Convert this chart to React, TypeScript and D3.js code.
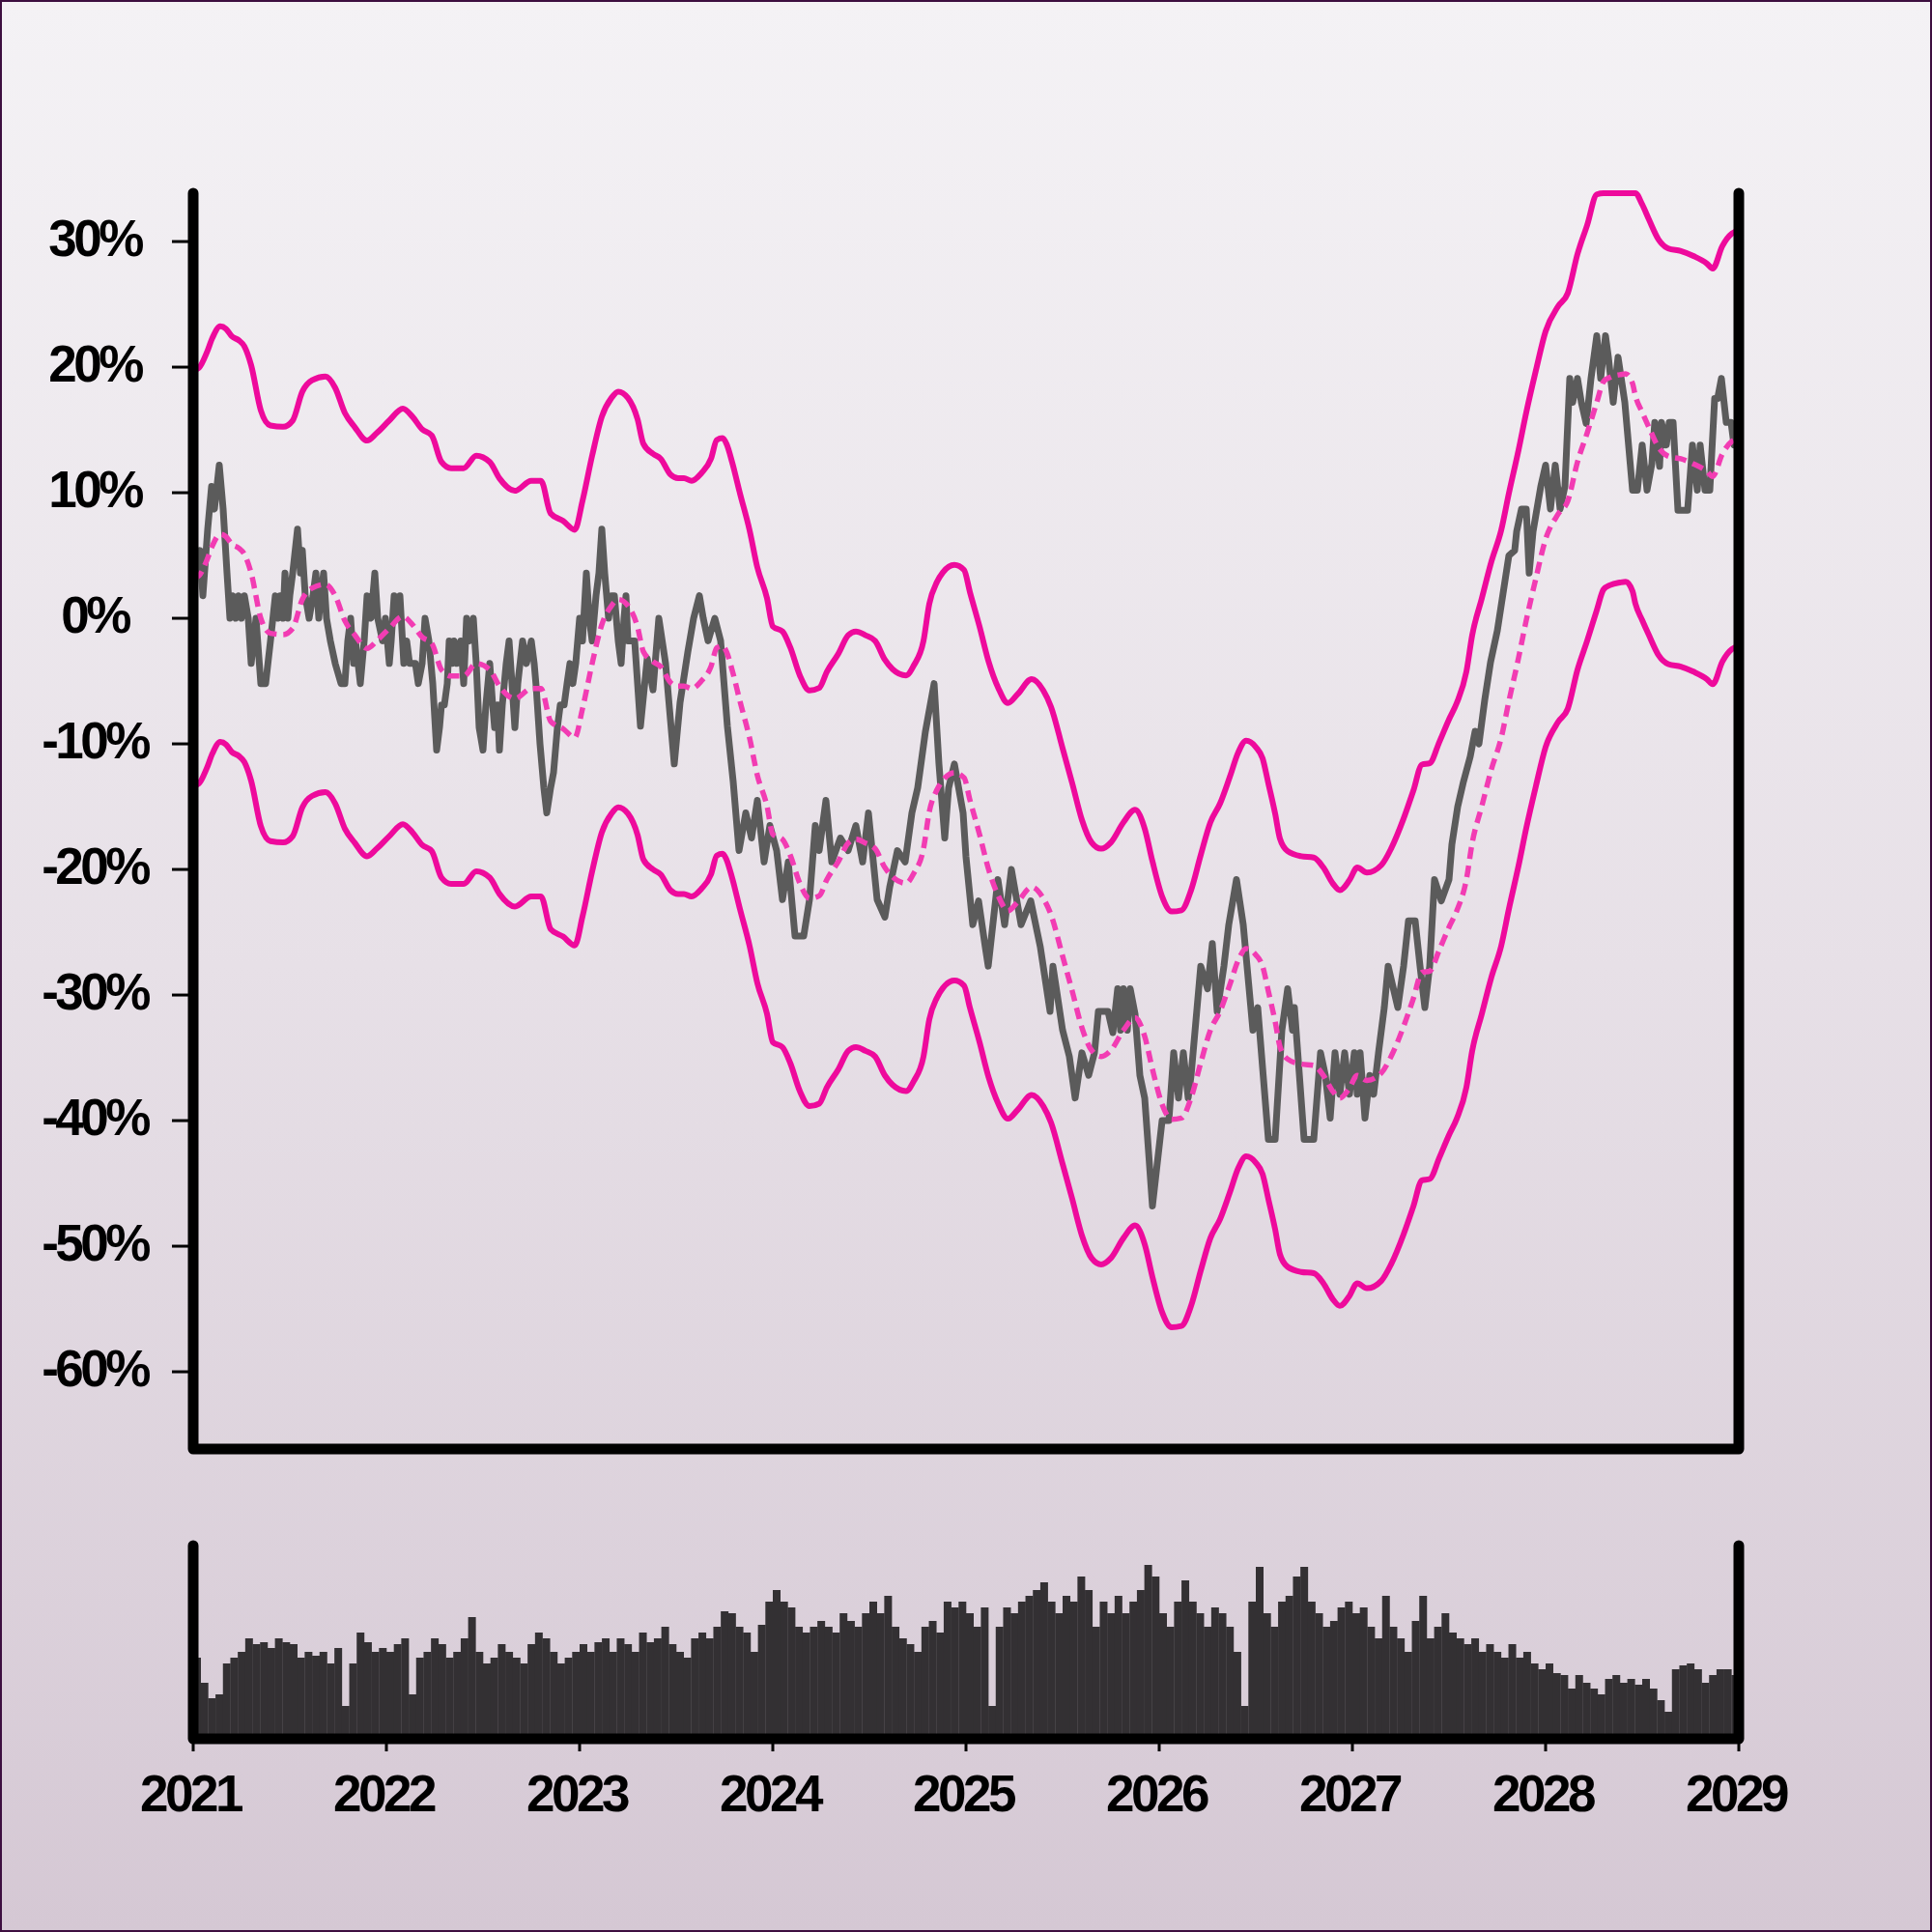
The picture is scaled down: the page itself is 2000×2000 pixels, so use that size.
import React from "react";
import * as d3 from "d3";

const yearTicks = [2021, 2022, 2023, 2024, 2025, 2026, 2027, 2028, 2029];
const pctTicks = [30, 20, 10, 0, -10, -20, -30, -40, -50, -60];

// price (decimal year, % change)
const pricePoints: [number, number][] = [
  [2021.000,5.4],[2021.020,3.6],[2021.035,5.4],[2021.050,1.8],[2021.075,7.1],[2021.095,10.5],[2021.110,8.7],[2021.135,12.2],[2021.155,8.7],[2021.175,3.6],
  [2021.190,0],[2021.205,1.8],[2021.220,0],[2021.235,1.8],[2021.250,0],[2021.265,1.8],[2021.285,0],[2021.300,-3.6],[2021.325,0],[2021.350,-5.2],
  [2021.375,-5.2],[2021.400,-1.8],[2021.425,1.8],[2021.440,0],[2021.450,1.8],[2021.465,0],[2021.475,3.6],[2021.490,0],[2021.500,1.8],[2021.515,3.6],
  [2021.540,7.1],[2021.555,3.6],[2021.565,5.4],[2021.580,1.8],[2021.600,0],[2021.620,1.8],[2021.635,3.6],[2021.650,0],[2021.660,1.8],[2021.675,3.6],
  [2021.690,0],[2021.710,-1.8],[2021.735,-3.6],[2021.765,-5.2],[2021.785,-5.2],[2021.800,-1.8],[2021.815,0],[2021.830,-3.6],[2021.840,-1.8],[2021.865,-5.2],
  [2021.885,-1.8],[2021.900,1.8],[2021.920,0],[2021.940,3.6],[2021.955,0],[2021.980,-1.8],[2021.995,0],[2022.015,-3.6],[2022.025,-1.8],[2022.040,1.8],
  [2022.055,0],[2022.070,1.8],[2022.090,-3.6],[2022.105,-1.8],[2022.120,-3.6],[2022.150,-3.6],[2022.165,-5.2],[2022.185,-3.6],[2022.200,0],[2022.220,-1.8],
  [2022.240,-5.2],[2022.260,-10.5],[2022.275,-8.7],[2022.285,-6.9],[2022.300,-6.9],[2022.315,-5.2],[2022.325,-1.8],[2022.340,-3.6],[2022.350,-1.8],[2022.365,-3.6],
  [2022.385,-1.8],[2022.400,-5.2],[2022.415,0],[2022.430,-1.8],[2022.450,0],[2022.465,-3.6],[2022.480,-8.7],[2022.500,-10.5],[2022.515,-6.9],[2022.535,-3.6],
  [2022.550,-6.9],[2022.560,-8.7],[2022.575,-6.9],[2022.585,-10.5],[2022.600,-6.9],[2022.620,-3.6],[2022.635,-1.8],[2022.650,-5.2],[2022.665,-8.7],[2022.680,-5.2],
  [2022.705,-1.8],[2022.725,-3.6],[2022.750,-1.8],[2022.765,-3.6],[2022.775,-5.4],[2022.795,-10],[2022.815,-13.5],[2022.830,-15.5],[2022.850,-13.5],[2022.865,-12.3],
  [2022.885,-8.7],[2022.900,-6.9],[2022.920,-6.9],[2022.935,-5.2],[2022.950,-3.6],[2022.965,-5.2],[2022.980,-3.6],[2023.000,0],[2023.015,-1.8],[2023.035,3.6],
  [2023.050,0],[2023.065,-1.8],[2023.085,1.8],[2023.100,3.6],[2023.115,7.1],[2023.130,3.6],[2023.150,0],[2023.165,1.8],[2023.180,1.8],[2023.200,-1.8],
  [2023.215,-3.6],[2023.230,0],[2023.240,1.8],[2023.250,-1.8],[2023.285,-1.8],[2023.315,-8.6],[2023.350,-3.2],[2023.380,-5.7],[2023.410,0],[2023.445,-3.6],
  [2023.490,-11.6],[2023.520,-6.7],[2023.560,-2.7],[2023.590,0],[2023.620,1.8],[2023.640,0],[2023.665,-1.8],[2023.700,0],[2023.730,-1.8],[2023.765,-8.6],
  [2023.795,-13],[2023.825,-18.5],[2023.860,-15.5],[2023.890,-17.5],[2023.920,-14.5],[2023.955,-19.4],[2023.985,-16.5],[2024.020,-18.5],[2024.050,-22.4],[2024.080,-19.4],
  [2024.115,-25.3],[2024.160,-25.3],[2024.190,-22.4],[2024.220,-16.5],[2024.240,-18.5],[2024.275,-14.5],[2024.305,-19.4],[2024.350,-17.5],[2024.390,-18.5],[2024.430,-16.5],
  [2024.465,-19.4],[2024.495,-15.5],[2024.540,-22.4],[2024.580,-23.8],[2024.605,-21.4],[2024.645,-18.5],[2024.685,-19.4],[2024.720,-15.5],[2024.750,-13.5],[2024.790,-9],
  [2024.835,-5.2],[2024.860,-11.6],[2024.890,-17.5],[2024.910,-13.5],[2024.940,-11.6],[2024.985,-15.5],[2025.000,-19],[2025.035,-24.4],[2025.065,-22.5],[2025.100,-26.2],
  [2025.115,-27.7],[2025.165,-20.8],[2025.200,-24.4],[2025.235,-20],[2025.285,-24.4],[2025.335,-22.5],[2025.385,-26.2],[2025.435,-31.3],[2025.450,-27.7],[2025.500,-32.8],
  [2025.535,-34.9],[2025.565,-38.2],[2025.600,-34.6],[2025.635,-36.4],[2025.665,-34.6],[2025.685,-31.3],[2025.735,-31.3],[2025.760,-33],[2025.785,-29.5],[2025.800,-32.8],
  [2025.815,-29.5],[2025.835,-32.8],[2025.850,-29.5],[2025.875,-31.5],[2025.900,-36.4],[2025.925,-38.2],[2025.965,-46.8],[2026.015,-40],[2026.050,-40],[2026.075,-34.6],
  [2026.100,-38.2],[2026.125,-34.6],[2026.150,-38.2],[2026.165,-36.4],[2026.215,-27.7],[2026.250,-29.5],[2026.275,-25.9],[2026.300,-31.3],[2026.335,-27.7],[2026.360,-24.4],
  [2026.400,-20.8],[2026.435,-24.4],[2026.485,-32.8],[2026.510,-31],[2026.565,-41.5],[2026.600,-41.5],[2026.635,-32.8],[2026.665,-29.5],[2026.690,-32.8],[2026.700,-31],
  [2026.750,-41.5],[2026.800,-41.5],[2026.835,-34.6],[2026.860,-36.4],[2026.885,-39.8],[2026.910,-34.6],[2026.935,-37.9],[2026.960,-34.6],[2026.985,-37.9],[2027.010,-34.6],
  [2027.025,-37.9],[2027.040,-34.6],[2027.065,-39.8],[2027.090,-36.4],[2027.110,-37.9],[2027.135,-34.6],[2027.165,-31],[2027.185,-27.7],[2027.235,-31],[2027.265,-27.7],
  [2027.290,-24.1],[2027.325,-24.1],[2027.350,-27.7],[2027.375,-31],[2027.400,-27.7],[2027.425,-20.8],[2027.460,-22.5],[2027.500,-20.8],[2027.515,-18],[2027.545,-15],
  [2027.575,-13],[2027.610,-11],[2027.635,-9],[2027.655,-10],[2027.685,-6.5],[2027.715,-3.5],[2027.750,-1],[2027.780,2],[2027.810,5],[2027.840,5.4],
  [2027.850,6.9],[2027.875,8.7],[2027.900,8.7],[2027.915,3.6],[2027.935,6.9],[2027.975,10.5],[2028.000,12.2],[2028.025,8.7],[2028.050,12.2],[2028.075,8.7],
  [2028.100,10.5],[2028.125,19.1],[2028.140,17.2],[2028.165,19.1],[2028.185,17.2],[2028.210,15.5],[2028.235,19.1],[2028.265,22.5],[2028.285,19.1],[2028.310,22.5],
  [2028.325,20.8],[2028.350,17.2],[2028.375,20.8],[2028.410,17.2],[2028.450,10.2],[2028.475,10.2],[2028.500,13.8],[2028.525,10.2],[2028.550,12.3],[2028.565,15.6],
  [2028.590,12.1],[2028.600,15.6],[2028.625,13.8],[2028.640,15.6],[2028.660,15.6],[2028.685,8.6],[2028.735,8.6],[2028.760,13.8],[2028.785,10.2],[2028.800,13.8],
  [2028.825,10.2],[2028.850,10.2],[2028.875,17.5],[2028.890,17.5],[2028.910,19.1],[2028.935,15.6],[2028.960,15.6],[2028.975,13.8],[2029.000,15.6]
];

// moving average (decimal year, %)
const maPoints: [number, number][] = [
  [2021.00,3.2],[2021.03,3.4],[2021.07,4.6],[2021.10,5.8],[2021.14,6.7],[2021.17,6.5],[2021.20,5.9],[2021.235,5.6],[2021.265,5.1],[2021.30,3.6],
  [2021.35,0],[2021.40,-1.2],[2021.465,-1.3],[2021.515,-0.8],[2021.565,1.5],[2021.615,2.4],[2021.685,2.7],[2021.735,1.8],[2021.785,-0.2],[2021.835,-1.3],
  [2021.90,-2.4],[2021.95,-1.8],[2022.015,-0.8],[2022.085,0.15],[2022.135,-0.5],[2022.185,-1.5],[2022.235,-2.0],[2022.285,-4.1],[2022.335,-4.6],[2022.40,-4.6],
  [2022.465,-3.6],[2022.535,-4.1],[2022.585,-5.4],[2022.665,-6.4],[2022.75,-5.6],[2022.80,-5.6],[2022.85,-8.2],[2022.915,-8.8],[2022.975,-9.5],[2023.015,-7.2],
  [2023.065,-3.6],[2023.115,-0.5],[2023.165,1.0],[2023.20,1.5],[2023.25,1.0],[2023.30,-0.7],[2023.33,-2.65],[2023.38,-3.45],[2023.42,-3.85],[2023.47,-5.1],
  [2023.51,-5.4],[2023.54,-5.4],[2023.58,-5.6],[2023.63,-5.0],[2023.68,-3.85],[2023.71,-2.35],[2023.74,-2.2],[2023.76,-2.65],[2023.79,-4.15],[2023.83,-6.6],
  [2023.88,-9.55],[2023.92,-12.5],[2023.97,-14.95],[2024.00,-17.2],[2024.05,-17.6],[2024.09,-18.85],[2024.14,-21.1],[2024.19,-22.3],[2024.24,-22.1],[2024.28,-20.8],
  [2024.34,-19.35],[2024.39,-17.9],[2024.43,-17.6],[2024.48,-17.9],[2024.53,-18.35],[2024.58,-19.85],[2024.62,-20.6],[2024.69,-21.1],[2024.73,-20.3],[2024.78,-18.35],
  [2024.81,-15.4],[2024.85,-13.65],[2024.88,-12.9],[2024.94,-12.3],[2024.99,-12.7],[2025.02,-14.45],[2025.07,-17.2],[2025.117,-20],[2025.167,-22.1],[2025.217,-23.3],
  [2025.267,-22.6],[2025.34,-21.4],[2025.40,-22.3],[2025.44,-23.6],[2025.50,-26.9],[2025.55,-29.7],[2025.60,-32.6],[2025.65,-34.4],[2025.70,-34.9],[2025.75,-34.4],
  [2025.815,-32.8],[2025.875,-31.8],[2025.925,-33.3],[2025.965,-35.9],[2026.015,-38.7],[2026.065,-39.9],[2026.115,-39.8],[2026.165,-38.2],[2026.215,-35.4],[2026.265,-32.8],
  [2026.315,-31.3],[2026.365,-29.2],[2026.41,-27.2],[2026.45,-26.3],[2026.50,-26.8],[2026.535,-27.7],[2026.565,-29.7],[2026.60,-32.1],[2026.625,-34.1],[2026.665,-35.1],
  [2026.735,-35.5],[2026.80,-35.6],[2026.85,-36.4],[2026.90,-37.7],[2026.935,-38.2],[2026.985,-37.4],[2027.025,-36.4],[2027.075,-36.8],[2027.15,-36.2],[2027.20,-34.9],
  [2027.265,-32.5],[2027.315,-30.3],[2027.36,-28.2],[2027.40,-28.1],[2027.45,-26.4],[2027.50,-24.6],[2027.54,-23.3],[2027.59,-20.8],[2027.62,-17.9],[2027.67,-14.95],
  [2027.72,-12.0],[2027.77,-9.55],[2027.81,-6.6],[2027.86,-3.15],[2027.90,-0.15],[2027.95,3.2],[2028.00,6.3],[2028.065,8.3],[2028.115,9.35],[2028.165,12.45],
  [2028.215,14.75],[2028.265,17.2],[2028.30,18.85],[2028.335,19.2],[2028.385,19.4],[2028.415,19.46],[2028.45,18.7],[2028.465,17.7],[2028.50,16.4],[2028.535,15.2],
  [2028.585,13.6],[2028.635,12.9],[2028.70,12.7],[2028.765,12.3],[2028.835,11.7],[2028.865,11.3],[2028.915,13.1],[2028.965,14.1],[2029.00,14.3]
];

// half-width of the bands around the moving average (in % points)
const bandHalfWidth = 16.55;

// volume per two-week period, 2021 -> 2029
const volumes = [
  42,29,21,23,39,42,45,52,49,50, 47,52,50,49,42,45,43,45,39,47,
  17,39,55,50,45,47,45,49,52,23, 42,45,52,49,42,45,52,63,45,39,
  42,49,45,42,39,49,55,52,45,39, 42,45,49,45,50,52,45,52,49,45,
  55,50,52,58,49,45,42,52,55,52, 58,66,65,58,55,45,59,71,77,71,
  68,58,55,58,61,58,55,65,61,58, 65,71,65,74,58,52,49,45,58,61,
  55,71,68,71,65,58,68,17,58,68, 65,71,74,77,81,71,65,74,71,84,
  77,58,71,65,74,65,71,77,90,84, 65,58,71,82,71,65,58,68,65,58,
  45,17,71,89,65,58,71,74,84,89, 71,65,58,61,68,71,65,68,58,52,
  74,58,52,45,61,74,52,58,65,55, 52,49,52,45,49,45,42,49,42,45,
  39,36,39,34,33,26,33,29,26,23, 31,33,29,31,28,31,26,20,14,36,
  38,39,36,29,33,36,36,33
];

const FONT = "'Liberation Sans', Arial, Helvetica, sans-serif";

export default function App() {
  const x = d3.scaleLinear().domain([2021, 2029]).range([200, 1800]);
  const y = d3.scaleLinear().domain([-66.15, 33.85]).range([1500, 200]).clamp(true);
  const yv = d3.scaleLinear().domain([0, 100]).range([1800, 1600]);
  const xb = d3
    .scaleBand<number>()
    .domain(volumes.map((_, i) => i))
    .range([200, 1800])
    .padding(0);

  const priceLine = d3
    .line<[number, number]>()
    .x((d) => x(d[0]))
    .y((d) => y(d[1]));
  const smoothLine = d3
    .line<[number, number]>()
    .x((d) => x(d[0]))
    .y((d) => y(d[1]))
    .curve(d3.curveMonotoneX);

  const upper = maPoints.map((d) => [d[0], d[1] + bandHalfWidth] as [number, number]);
  const lower = maPoints.map((d) => [d[0], d[1] - bandHalfWidth] as [number, number]);

  const pink = "#ee0a9c";
  const pinkDash = "#f23cb3";

  return (
    <div style={{ position: "absolute", left: 0, top: 0, width: 2000, height: 2000 }}>
      <svg width={2000} height={2000} viewBox="0 0 2000 2000" style={{ display: "block" }}>
        <defs>
          <linearGradient id="bg" x1="0" y1="0" x2="0" y2="1">
            <stop offset="0" stopColor="#f4f2f5" />
            <stop offset="0.5" stopColor="#e7e0e7" />
            <stop offset="1" stopColor="#d5c8d4" />
          </linearGradient>
        </defs>
        <rect x={1} y={1} width={1998} height={1998} fill="url(#bg)" stroke="#3d0f40" strokeWidth={2} />

        {/* volume bars */}
        <g>
          {volumes.map((v, i) => (
            <rect
              key={i}
              x={xb(i)!}
              y={yv(v)}
              width={xb.bandwidth() + 0.3}
              height={1800 - yv(v)}
              fill="#333033"
            />
          ))}
        </g>

        {/* bands and lines */}
        <path d={smoothLine(upper)!} fill="none" stroke={pink} strokeWidth={6} strokeLinejoin="round" />
        <path d={smoothLine(lower)!} fill="none" stroke={pink} strokeWidth={6} strokeLinejoin="round" />
        <path d={priceLine(pricePoints)!} fill="none" stroke="#5b5b5b" strokeWidth={7} strokeLinejoin="round" />
        <path
          d={smoothLine(maPoints)!}
          fill="none"
          stroke={pinkDash}
          strokeWidth={5.5}
          strokeDasharray="12 7"
        />

        {/* y ticks */}
        {pctTicks.map((t) => (
          <g key={t}>
            <line x1={178} x2={200} y1={y(t)} y2={y(t)} stroke="#000" strokeWidth={3} />
            <text
              x={98}
              y={y(t) + 15}
              textAnchor="middle"
              fontFamily={FONT}
              fontWeight="bold"
              fontSize={53}
              letterSpacing={-3.5}
              fill="#000"
            >
              {`${t}%`}
            </text>
          </g>
        ))}

        {/* x ticks (volume panel) */}
        {yearTicks.map((t) => (
          <g key={t}>
            <line x1={x(t)} x2={x(t)} y1={1800} y2={1813} stroke="#000" strokeWidth={3} />
            <text
              x={x(t) - 3}
              y={1875}
              textAnchor="middle"
              fontFamily={FONT}
              fontWeight="bold"
              fontSize={53}
              letterSpacing={-3.5}
              fill="#000"
            >
              {String(t)}
            </text>
          </g>
        ))}

        {/* frames */}
        <path
          d={`M${x(2021)},${y.range()[1]} V${y.range()[0]} H${x(2029)} V${y.range()[1]}`}
          fill="none"
          stroke="#000"
          strokeWidth={11}
          strokeLinecap="round"
          strokeLinejoin="round"
        />
        <path
          d={`M${x(2021)},${yv.range()[1]} V${yv.range()[0]} H${x(2029)} V${yv.range()[1]}`}
          fill="none"
          stroke="#000"
          strokeWidth={11}
          strokeLinecap="round"
          strokeLinejoin="round"
        />
      </svg>
    </div>
  );
}
